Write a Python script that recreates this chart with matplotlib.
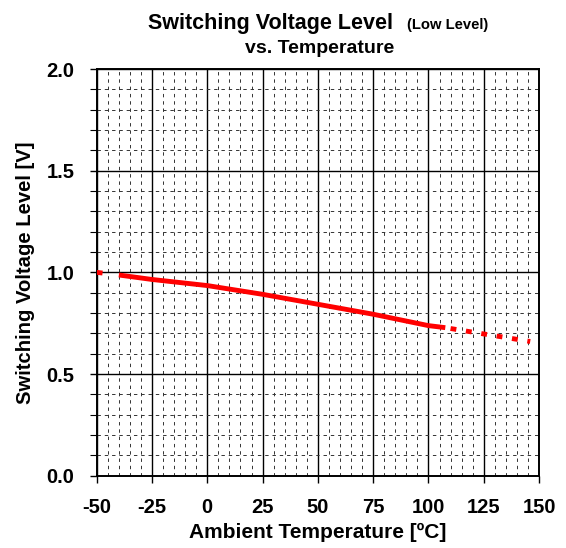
import numpy as np
import matplotlib.pyplot as plt
from matplotlib.ticker import MultipleLocator

plt.rcParams['font.family'] = ['Liberation Sans', 'DejaVu Sans']
plt.rcParams['font.weight'] = 'bold'

# measured curve
temp = [-40, -25, 0, 25, 50, 75, 100, 107.6]
volt = [0.987, 0.965, 0.935, 0.892, 0.843, 0.794, 0.738, 0.728]

# extrapolated parts (drawn dashed)
temp_low = [-50, -40]
volt_low = [1.0, 0.987]
temp_high = [107.6, 125, 146]
volt_high = [0.728, 0.697, 0.66]

xticks = [-50, -25, 0, 25, 50, 75, 100, 125, 150]
yticks = [0.0, 0.5, 1.0, 1.5, 2.0]

fig = plt.figure(figsize=(5.66, 5.48), dpi=100)
ax = fig.add_axes([0.1709, 0.132, 0.7815, 0.742])

ax.set_xlim(-50, 150)
ax.set_ylim(0, 2.0)
ax.set_xticks(xticks)
ax.set_yticks(yticks)
ax.set_xticklabels([str(t) for t in xticks])
ax.set_yticklabels([f'{t:.1f}' for t in yticks])
ax.xaxis.set_minor_locator(MultipleLocator(5))
ax.yaxis.set_minor_locator(MultipleLocator(0.1))

ax.grid(True, which='major', color='black', lw=1.0)
ax.grid(True, which='minor', color='#333333', lw=0.7, linestyle=(0, (3.5, 4)))
ax.set_axisbelow(True)

ax.tick_params(axis='both', which='major', direction='out', length=5, width=1.0,
               labelsize=14.5)
ax.tick_params(axis='x', which='major', pad=11)
ax.tick_params(axis='y', which='major', pad=11)
ax.tick_params(axis='x', which='minor', length=0)
ax.tick_params(axis='y', which='minor', direction='out', length=5, width=0.8)
for lbl in ax.get_xticklabels() + ax.get_yticklabels():
    lbl.set_fontweight('bold')
for s in ax.spines.values():
    s.set_linewidth(1.4)

ax.plot(temp, volt, color='#ff0000', lw=3.5, solid_capstyle='butt', zorder=5)
ax.plot(temp_low, volt_low, color='#ff0000', lw=3.5, dash_capstyle='butt',
        linestyle=(0, (1.2, 5)), zorder=5)
ax.plot(temp_high, volt_high, color='#ff0000', lw=3.5, dash_capstyle='butt',
        linestyle=(2.1, (1.2, 2.0)), zorder=5)

ax.set_xlabel('Ambient Temperature [ºC]', fontsize=15, fontweight='bold', labelpad=4)
ax.set_ylabel('Switching Voltage Level [V]', fontsize=14.6, fontweight='bold', labelpad=8)

fig.text(0.695, 0.958, 'Switching Voltage Level', ha='right', va='center',
         fontsize=15.5, fontweight='bold')
fig.text(0.719, 0.955, '(Low Level)', ha='left', va='center',
         fontsize=10.6, fontweight='bold')
fig.text(0.564, 0.912, 'vs. Temperature', ha='center', va='center',
         fontsize=14, fontweight='bold')

fig.savefig('out.png', dpi=100)
